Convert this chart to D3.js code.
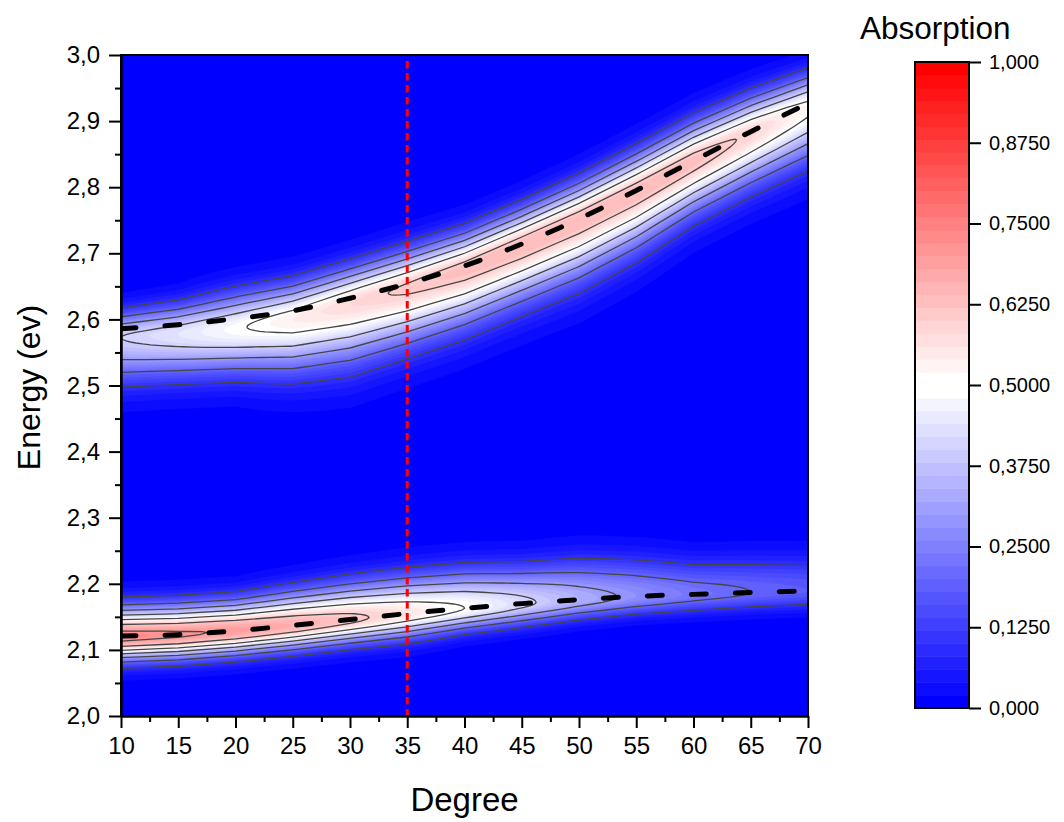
<!DOCTYPE html>
<html>
<head>
<meta charset="utf-8">
<script src="https://cdn.jsdelivr.net/npm/d3@7"></script>
<style>
  body { margin: 0; background: #ffffff; }
  svg { display: block; }
  text { font-family: Arial, "Liberation Sans", sans-serif; fill: #000; }
</style>
</head>
<body>
<svg id="chart" width="1064" height="822"></svg>
<script>
// ---- Data -----------------------------------------------------------------
// Incidence angles (degrees) at which the absorption spectra were taken
const angles = [10, 15, 20, 25, 30, 35, 40, 45, 50, 55, 60, 65, 70];

// Upper polariton band: peak absorption, peak energy (eV), half-widths below / above the peak (eV)
const upPeak   = [0.40, 0.44, 0.49, 0.54, 0.58, 0.61, 0.63, 0.64, 0.64, 0.64, 0.63, 0.59, 0.52];
const upCenter = [2.573, 2.578, 2.586, 2.600, 2.624, 2.648, 2.676, 2.712, 2.750, 2.793, 2.840, 2.882, 2.921];
const upWidthLow  = [0.053, 0.052, 0.053, 0.062, 0.069, 0.066, 0.065, 0.065, 0.067, 0.065, 0.060, 0.060, 0.062];
const upWidthHigh = [0.031, 0.035, 0.042, 0.042, 0.042, 0.043, 0.042, 0.042, 0.043, 0.044, 0.044, 0.042, 0.038];

// Lower polariton band
const lpPeak   = [0.73, 0.71, 0.69, 0.66, 0.62, 0.56, 0.50, 0.42, 0.34, 0.28, 0.23, 0.20, 0.18];
const lpCenter = [2.120, 2.123, 2.129, 2.137, 2.146, 2.155, 2.163, 2.170, 2.176, 2.181, 2.184, 2.187, 2.189];
const lpWidthLow  = [0.028, 0.028, 0.028, 0.028, 0.028, 0.029, 0.026, 0.025, 0.023, 0.022, 0.022, 0.022, 0.022];
const lpWidthHigh = [0.035, 0.035, 0.035, 0.039, 0.042, 0.044, 0.045, 0.044, 0.047, 0.045, 0.041, 0.042, 0.042];

// Coupled-oscillator fits of the two branches (eV)
const upFit = [2.586, 2.592, 2.601, 2.613, 2.632, 2.654, 2.681, 2.714, 2.752, 2.795, 2.840, 2.884, 2.927];
const lpFit = [2.121, 2.123, 2.129, 2.137, 2.146, 2.155, 2.163, 2.170, 2.176, 2.181, 2.184, 2.187, 2.189];

// Angle marked by the vertical guide
const markedAngle = 35;

// Axis ticks and labels
const xTicks = [10, 15, 20, 25, 30, 35, 40, 45, 50, 55, 60, 65, 70];
const yTicks = [2.0, 2.1, 2.2, 2.3, 2.4, 2.5, 2.6, 2.7, 2.8, 2.9, 3.0];
const colorTicks = [0, 0.125, 0.25, 0.375, 0.5, 0.625, 0.75, 0.875, 1.0];
const colorTickLabels = ["0,000", "0,1250", "0,2500", "0,3750", "0,5000", "0,6250", "0,7500", "0,8750", "1,000"];

// ---- Layout ---------------------------------------------------------------
const plot = { left: 121, right: 808, top: 55, bottom: 716 };
const bar = { left: 915, right: 969, top: 62, bottom: 708 };
const nLevels = 50;

const svg = d3.select("#chart");
const x = d3.scaleLinear().domain([10, 70]).range([plot.left, plot.right]);
const y = d3.scaleLinear().domain([2.0, 3.0]).range([plot.bottom, plot.top]);

const commaLocale = d3.formatLocale({ decimal: ",", thousands: ".", grouping: [3], currency: ["", ""] });
const fmt1 = commaLocale.format(".1f");

// Blue - white - red palette, one colour per 0.02 level band
const blueWhite = d3.interpolateRgb("#0000ff", "#ffffff");
const whiteRed = d3.interpolateRgb("#ffffff", "#ff0000");
function levelColor(k) {
  const half = nLevels / 2;
  return k < half ? blueWhite(k / (half - 1)) : whiteRed((k - half) / (half - 1));
}

// ---- Absorption bands -----------------------------------------------------
// Each band is sampled on a grid of (angle, energy offset from the band peak);
// the offset rows are placed back onto the band's peak energy when drawn.
const eta = 0.06;                 // Lorentzian fraction of the line shape
const dMin = -0.3, dStep = 0.002, nRows = 301;
const nx = angles.length;
const angleStep = angles[1] - angles[0];

function lineShape(d, A, wLo, wHi) {
  const w = d < 0 ? wLo : wHi;
  const u2 = (d / w) ** 2;
  return A * (eta / (1 + u2) + (1 - eta) * Math.exp(-Math.LN2 * u2));
}

function bandGrid(peak, wLo, wHi) {
  const values = new Float64Array(nx * nRows);
  for (let j = 0; j < nRows; j++) {
    const d = dMin + j * dStep;
    for (let i = 0; i < nx; i++) values[j * nx + i] = lineShape(d, peak[i], wLo[i], wHi[i]);
  }
  return values;
}

function bandPath(center) {
  const peakEnergy = d3.scaleLinear().domain(angles).range(center);
  const projection = d3.geoTransform({
    point: function (gx, gy) {
      const a = angles[0] + (gx - 0.5) * angleStep;
      this.stream.point(x(a), y(peakEnergy(a) + dMin + (gy - 0.5) * dStep));
    }
  });
  return d3.geoPath(projection);
}

const bands = [
  { grid: bandGrid(upPeak, upWidthLow, upWidthHigh), path: bandPath(upCenter) },
  { grid: bandGrid(lpPeak, lpWidthLow, lpWidthHigh), path: bandPath(lpCenter) }
];

// ---- Plot -----------------------------------------------------------------
const defs = svg.append("defs");
defs.append("clipPath").attr("id", "plot-clip")
  .append("rect")
  .attr("x", plot.left).attr("y", plot.top)
  .attr("width", plot.right - plot.left).attr("height", plot.bottom - plot.top);

const plotG = svg.append("g").attr("clip-path", "url(#plot-clip)");

plotG.append("rect")
  .attr("x", plot.left).attr("y", plot.top)
  .attr("width", plot.right - plot.left).attr("height", plot.bottom - plot.top)
  .attr("fill", levelColor(0));

const fillLevels = d3.range(1, nLevels).map(k => k / nLevels);
const lineLevels = d3.range(1, 10).map(k => k / 10);

bands.forEach(band => {
  const filled = d3.contours().size([nx, nRows]).thresholds(fillLevels)(band.grid);
  plotG.append("g").selectAll("path")
    .data(filled)
    .join("path")
    .attr("d", band.path)
    .attr("fill", (d, i) => levelColor(i + 1))
    .attr("stroke", (d, i) => levelColor(i + 1))
    .attr("stroke-width", 0.3);
});

bands.forEach(band => {
  const lines = d3.contours().size([nx, nRows]).thresholds(lineLevels)(band.grid);
  plotG.append("g").selectAll("path")
    .data(lines)
    .join("path")
    .attr("d", band.path)
    .attr("fill", "none")
    .attr("stroke", "#464646")
    .attr("stroke-width", 1.3);
});

// Fitted dispersion of the two branches
const fitLine = d3.line()
  .x((d, i) => x(angles[i]))
  .y(d => y(d))
  .curve(d3.curveMonotoneX);

[upFit, lpFit].forEach(series => {
  plotG.append("path")
    .attr("d", fitLine(series))
    .attr("fill", "none")
    .attr("stroke", "#000")
    .attr("stroke-width", 5)
    .attr("stroke-linecap", "round")
    .attr("stroke-dasharray", "15,29");
});

// Vertical guide at the marked angle
plotG.append("line")
  .attr("x1", x(markedAngle)).attr("x2", x(markedAngle))
  .attr("y1", plot.top + 6).attr("y2", plot.bottom)
  .attr("stroke", "#ff0000")
  .attr("stroke-width", 3)
  .attr("stroke-dasharray", "7.5,4.5");

// Frame
svg.append("rect")
  .attr("x", plot.left).attr("y", plot.top)
  .attr("width", plot.right - plot.left).attr("height", plot.bottom - plot.top)
  .attr("fill", "none").attr("stroke", "#000").attr("stroke-width", 2);

// ---- Axes -----------------------------------------------------------------
const tickFont = 24;

svg.append("g")
  .attr("transform", `translate(0,${plot.bottom})`)
  .call(d3.axisBottom(x).tickValues(xTicks).tickFormat(d3.format("d"))
    .tickSize(12).tickSizeOuter(0).tickPadding(9));
svg.append("g")
  .attr("transform", `translate(0,${plot.bottom})`)
  .call(d3.axisBottom(x).tickValues(d3.range(12.5, 70, 5)).tickFormat("")
    .tickSize(6).tickSizeOuter(0));

svg.append("g")
  .attr("transform", `translate(${plot.left},0)`)
  .call(d3.axisLeft(y).tickValues(yTicks).tickFormat(fmt1)
    .tickSize(12).tickSizeOuter(0).tickPadding(9));
svg.append("g")
  .attr("transform", `translate(${plot.left},0)`)
  .call(d3.axisLeft(y).tickValues(d3.range(2.05, 3.0, 0.1)).tickFormat("")
    .tickSize(6).tickSizeOuter(0));

svg.selectAll(".domain").attr("stroke", "#000").attr("stroke-width", 2);
svg.selectAll(".tick line").attr("stroke", "#000").attr("stroke-width", 2);
svg.selectAll(".tick text")
  .attr("font-size", tickFont)
  .attr("font-family", "Arial, 'Liberation Sans', sans-serif")
  .attr("fill", "#000");

svg.append("text")
  .attr("x", (plot.left + plot.right) / 2)
  .attr("y", 811)
  .attr("text-anchor", "middle")
  .attr("font-size", 33)
  .text("Degree");

svg.append("text")
  .attr("transform", `translate(40,${(plot.top + plot.bottom) / 2 + 2}) rotate(-90)`)
  .attr("text-anchor", "middle")
  .attr("font-size", 32)
  .text("Energy (ev)");

// ---- Colour scale ---------------------------------------------------------
const cb = d3.scaleLinear().domain([0, 1]).range([bar.bottom, bar.top]);
const barG = svg.append("g");
barG.selectAll("rect.level")
  .data(d3.range(nLevels))
  .join("rect")
  .attr("class", "level")
  .attr("x", bar.left)
  .attr("width", bar.right - bar.left)
  .attr("y", k => cb((k + 1) / nLevels))
  .attr("height", k => cb(k / nLevels) - cb((k + 1) / nLevels) + 0.5)
  .attr("fill", k => levelColor(k));

barG.append("rect")
  .attr("x", bar.left).attr("y", bar.top)
  .attr("width", bar.right - bar.left).attr("height", bar.bottom - bar.top)
  .attr("fill", "none").attr("stroke", "#000").attr("stroke-width", 2);

const cbAxis = svg.append("g")
  .attr("transform", `translate(${bar.right},0)`)
  .call(d3.axisRight(cb).tickValues(colorTicks)
    .tickFormat((d, i) => colorTickLabels[i])
    .tickSize(12).tickSizeOuter(0).tickPadding(8));
cbAxis.select(".domain").remove();
cbAxis.selectAll(".tick line").attr("stroke", "#000").attr("stroke-width", 2);
cbAxis.selectAll(".tick text")
  .attr("font-size", 20)
  .attr("font-family", "Arial, 'Liberation Sans', sans-serif")
  .attr("fill", "#000");

svg.append("text")
  .attr("x", 860)
  .attr("y", 39)
  .attr("font-size", 31.5)
  .text("Absorption");
</script>
</body>
</html>
